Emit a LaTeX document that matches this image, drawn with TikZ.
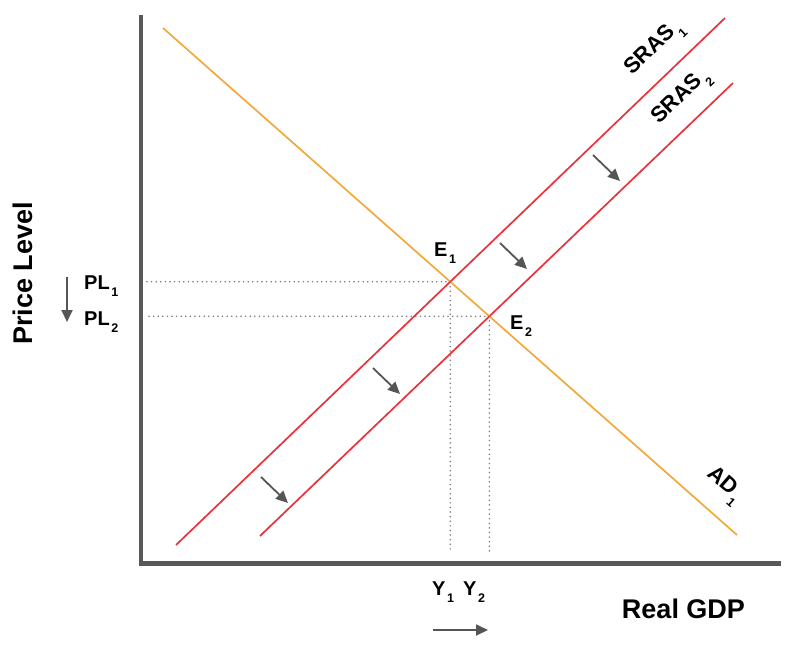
\documentclass[tikz,border=0pt]{standalone}
\usepackage{fontspec}
\setmainfont{Liberation Sans}
\usepackage{tikz}
\usetikzlibrary{arrows.meta, calc}
\definecolor{axe}{HTML}{585858}
\definecolor{orangead}{HTML}{F2A93B}
\definecolor{rouge}{HTML}{E8333C}
\definecolor{grisfl}{HTML}{555555}
\definecolor{pointille}{HTML}{7A7A7A}
\newcommand{\lowidx}[1]{\kern1.5pt\raisebox{-0.75ex}{\fontsize{12.5}{12.5}\selectfont #1}}
\tikzset{
  axis/.style={line width=4.5pt, draw=axe},
  courbead/.style={line width=1.7pt, draw=orangead},
  courbeas/.style={line width=1.7pt, draw=rouge},
  guide/.style={line width=1.7pt, draw=pointille, line cap=round, dash pattern=on 0pt off 4.6pt},
  decal/.style={-{Triangle[length=12pt, width=11pt]}, line width=1.8pt, draw=grisfl, fill=grisfl},
  titre/.style={font=\fontsize{27}{27}\selectfont\bfseries, text=black, inner sep=0pt},
  etiquette/.style={font=\fontsize{20}{20}\selectfont\bfseries, text=black, inner sep=0pt},
  courbelab/.style={etiquette, font=\fontsize{22}{22}\selectfont\bfseries}
}

\begin{document}
\begin{tikzpicture}[x=1pt, y=-1pt]
    \useasboundingbox (0,0) rectangle (785,646);

    % Axes
    \coordinate (otop) at (141,15);
    \coordinate (orig) at (141,563.5);
    \coordinate (xend) at (781,563.5);
    \draw[axis] (otop) -- (orig) -- (xend);

    % Courbes
    \coordinate (adtop) at (163,28);
    \coordinate (adbot) at (737,535);
    \coordinate (sonebot) at (176,545);
    \coordinate (sonetop) at (725,18);
    \coordinate (stwobot) at (260,536);
    \coordinate (stwotop) at (733,83);
    \draw[courbead] (adtop) -- (adbot);
    \draw[courbeas] (sonebot) -- (sonetop);
    \draw[courbeas] (stwobot) -- (stwotop);

    % Equilibres et pointilles
    \coordinate (e1) at (intersection of adtop--adbot and sonebot--sonetop);
    \coordinate (e2) at (intersection of adtop--adbot and stwobot--stwotop);
    \coordinate (pone) at (147,0 |- e1);
    \coordinate (ptwo) at (149,0 |- e2);
    \coordinate (yone) at (e1 |- 0,553);
    \coordinate (ytwo) at (e2 |- 0,553);
    \draw[guide] (pone) -- (e1) -- (yone);
    \draw[guide] (ptwo) -- (e2) -- (ytwo);

    % Deplacements
    \foreach \x/\y [count=\i] in {261/477, 373/368, 500/243, 593/155} {
      \coordinate (sh\i a) at (\x,\y);
      \coordinate (sh\i b) at ($(sh\i a)+(27,26)$);
      \draw[decal] (sh\i a) -- (sh\i b);
    }
    \coordinate (plhaut) at (67,277);
    \coordinate (plbas) at (67,322);
    \draw[decal] (plhaut) -- (plbas);
    \coordinate (ygauche) at (433,630);
    \coordinate (ydroite) at (488,630);
    \draw[decal] (ygauche) -- (ydroite);

    % Textes
    \node[titre, rotate=90] (prix) at (22.5,273.5) {Price Level};
    \node[titre] (pib) at (683.5,609) {Real GDP};
    \node[etiquette, anchor=base west] (pl1) at (84,289) {PL\lowidx{1}};
    \node[etiquette, anchor=base west] (pl2) at (84,325) {PL\lowidx{2}};
    \node[etiquette, anchor=base west] (e1lab) at (434,256) {E\lowidx{1}};
    \node[etiquette, anchor=base west] (e2lab) at (510,329) {E\lowidx{2}};
    \node[etiquette, anchor=base west] (y1) at (432,595) {Y\lowidx{1}};
    \node[etiquette, anchor=base west] (y2) at (463,595) {Y\lowidx{2}};
    \node[courbelab, anchor=base west, rotate=44] (sras1) at (632,76) {SRAS\lowidx{1}};
    \node[courbelab, anchor=base west, rotate=44] (sras2) at (659,125) {SRAS\lowidx{2}};
    \node[courbelab, anchor=base west, rotate=-41] (ad1) at (706,475) {AD\lowidx{1}};
\end{tikzpicture}
\end{document}
